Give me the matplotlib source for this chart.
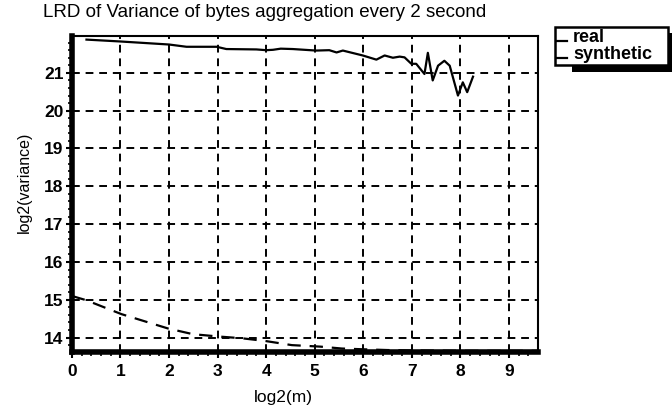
import numpy as np
import matplotlib.pyplot as plt
from matplotlib.patches import Rectangle
from matplotlib.ticker import MultipleLocator
from matplotlib.legend_handler import HandlerLine2D

# values
real_x = [0.3, 1.0, 2.0, 2.36, 2.98, 3.18, 3.8, 4.0, 4.14, 4.3, 4.55, 5.03, 5.3, 5.45,
          5.58, 5.99, 6.27, 6.44, 6.61, 6.75, 6.85, 6.99, 7.09, 7.26, 7.33, 7.43,
          7.54, 7.67, 7.78, 7.95, 8.05, 8.14, 8.26]
real_y = [21.88, 21.83, 21.75, 21.69, 21.69, 21.63, 21.62, 21.6, 21.61, 21.64, 21.63,
          21.59, 21.6, 21.54, 21.59, 21.46, 21.35, 21.46, 21.40, 21.43, 21.41, 21.24,
          21.24, 20.97, 21.53, 20.80, 21.19, 21.32, 21.19, 20.40, 20.75, 20.49, 20.90]

synth_x = [0.0, 0.29, 1.02, 1.98, 2.49, 3.0, 3.51, 3.98, 4.53, 5.12, 5.56, 6.0, 6.5,
           7.0, 8.0, 9.0, 9.6]
synth_y = [15.1, 14.99, 14.62, 14.24, 14.09, 14.03, 13.98, 13.91, 13.80, 13.76, 13.71,
           13.69, 13.67, 13.66, 13.65, 13.65, 13.65]

x_ticks = list(range(0, 10))
y_ticks = list(range(14, 22))


# legend handles sit on the baseline like an underscore
class BaselineHandler(HandlerLine2D):
    def create_artists(self, legend, orig_handle, xdescent, ydescent,
                       width, height, fontsize, trans):
        arts = super().create_artists(legend, orig_handle, xdescent, ydescent,
                                      width, height, fontsize, trans)
        for a in arts:
            a.set_ydata(np.full_like(np.asarray(a.get_xdata(), float), 0.5))
            a.set_linestyle('-')
        return arts


plt.rcParams['font.family'] = ['Liberation Sans', 'DejaVu Sans']

fig = plt.figure(figsize=(6.72, 4.16), dpi=100)
ax = fig.add_axes([0.107, 0.154, 0.693, 0.759])

ax.plot(real_x, real_y, color='black', lw=1.6, label='real')
ax.plot(synth_x, synth_y, color='black', lw=1.6, dashes=(6, 4), label='synthetic')

ax.set_xlim(0, 9.59)
ax.set_ylim(13.62, 21.97)
ax.set_xticks(x_ticks)
ax.set_yticks(y_ticks)
ax.xaxis.set_minor_locator(MultipleLocator(0.2))
ax.yaxis.set_minor_locator(MultipleLocator(0.2))
ax.tick_params(which='major', direction='out', length=4, width=1.5,
               labelsize=12.5)
ax.tick_params(axis='x', which='major', pad=5)
ax.tick_params(axis='y', which='major', pad=2)
ax.tick_params(which='minor', direction='out', length=3, width=1.2)
for lab in ax.get_xticklabels() + ax.get_yticklabels():
    lab.set_fontweight('bold')

ax.grid(True, color='black', lw=1.4, linestyle=(0, (4, 3)))

for side in ['left', 'bottom']:
    ax.spines[side].set_linewidth(4)
for side in ['top', 'right']:
    ax.spines[side].set_linewidth(1.5)

ax.set_xlabel('log2(m)', fontsize=12.5)
ax.xaxis.set_label_coords(0.455, -0.12)
ax.set_ylabel('log2(variance)', fontsize=11.5)
ax.yaxis.set_label_coords(-0.086, 0.538)
fig.text(0.064, 0.971, 'LRD of Variance of bytes aggregation every 2 second',
         fontsize=13.5, ha='left', va='center')

# legend with a solid black drop shadow
fig.patches.append(Rectangle((0.851, 0.827), 0.149, 0.094, transform=fig.transFigure,
                             facecolor='black', edgecolor='none', zorder=0))
handles, labels = ax.get_legend_handles_labels()
leg = fig.legend(handles, labels, loc='upper left',
                 bbox_to_anchor=(0.826, 0.849, 0.168, 0.086),
                 mode='expand', frameon=True, fancybox=False, fontsize=13,
                 handlelength=0.55, handletextpad=0.35, borderpad=0.1,
                 labelspacing=0.0, borderaxespad=0,
                 handler_map={h: BaselineHandler() for h in handles})
leg.get_frame().set_edgecolor('black')
leg.get_frame().set_linewidth(1.8)
leg.get_frame().set_alpha(1)
for t in leg.get_texts():
    t.set_fontweight('bold')

fig.savefig('out.png', dpi=100)
